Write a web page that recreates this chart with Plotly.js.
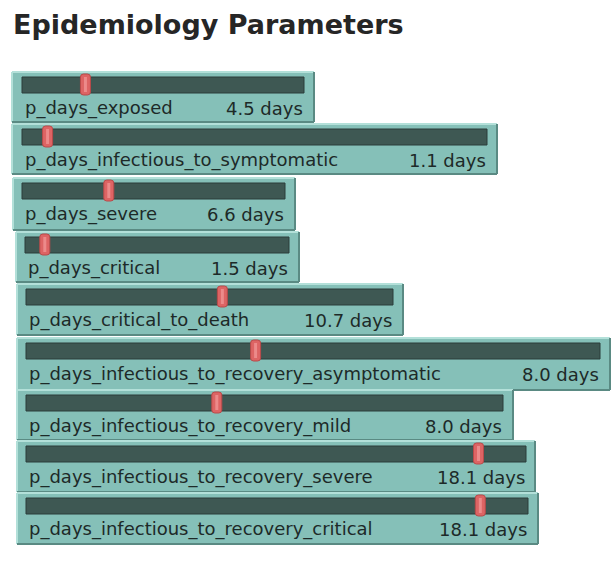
<!DOCTYPE html>
<html>
<head>
<meta charset="utf-8">
<script src="https://cdn.plot.ly/plotly-3.0.1.min.js"></script>
<style>html,body{margin:0;padding:0;background:#fff;}#chart{width:615px;height:576px;}</style>
</head>
<body>
<div id="chart"></div>
<script>
// ---- data ----
const titleText = "Epidemiology Parameters";
const labels = [
  "p_days_exposed",
  "p_days_infectious_to_symptomatic",
  "p_days_severe",
  "p_days_critical",
  "p_days_critical_to_death",
  "p_days_infectious_to_recovery_asymptomatic",
  "p_days_infectious_to_recovery_mild",
  "p_days_infectious_to_recovery_severe",
  "p_days_infectious_to_recovery_critical"
];
const values = [4.5, 1.1, 6.6, 1.5, 10.7, 8.0, 8.0, 18.1, 18.1];
const mins = [0, 0, 0, 0, 0, 0, 0, 0, 0];
const maxs = [20, 20, 20, 20, 20, 20, 20, 20, 20];
const unit = "days";

// ---- layout geometry (pixels): panel left, right, top, bottom, track left, track right ----
const W = 615, H = 576;
const panels = [
  [12, 314, 72, 122, 22, 304],
  [12, 497, 124, 174, 22, 487],
  [13, 295, 178, 230, 22, 285],
  [16, 299, 232, 282, 25, 289],
  [17, 403, 284, 335, 26, 393],
  [17, 610, 338, 390, 26, 600],
  [17, 513, 390, 440, 26, 503],
  [17, 535, 441, 492, 26, 526],
  [17, 538, 493, 544, 26, 528]
];
const trackTop = 5, trackBot = 21;      // px from panel top
const handleTop = 2, handleBot = 23;
const handleHalfW = 5;                   // px
const labelY = 36;

const panelColor = "#85c0b8";
const trackColor = "#3e5853";
const handleColor = "#dd6464";
const textColor = "#1d2a28";

const traces = [];
const layout = {
  width: W, height: H,
  margin: {l: 0, r: 0, t: 0, b: 0},
  paper_bgcolor: "#ffffff",
  plot_bgcolor: panelColor,
  showlegend: false,
  barmode: "overlay",
  title: {
    text: titleText,
    x: 13 / W, xanchor: "left", xref: "paper",
    y: 1 - 25 / H, yanchor: "middle", yref: "paper",
    font: {family: "DejaVu Sans", size: 27, color: "#262626", weight: "bold"}
  },
  annotations: [],
  shapes: []
};

labels.forEach((lab, i) => {
  const n = i + 1;
  const xa = "xaxis" + (n === 1 ? "" : n), ya = "yaxis" + (n === 1 ? "" : n);
  const xr = "x" + (n === 1 ? "" : n), yr = "y" + (n === 1 ? "" : n);
  const [pL, pR, pT, pB, tL, tR] = panels[i];
  const span = maxs[i] - mins[i];
  const s = span / (tR - tL);  // axis units per px
  const ph = pB - pT;
  layout[xa] = {
    domain: [pL / W, pR / W],
    range: [mins[i] - (tL - pL) * s, maxs[i] + (pR - tR) * s],
    visible: false, fixedrange: true, anchor: yr
  };
  layout[ya] = {
    domain: [1 - pB / H, 1 - pT / H],
    range: [ph, 0],
    visible: false, fixedrange: true, anchor: xr
  };
  // track
  traces.push({
    type: "bar", orientation: "h", xaxis: xr, yaxis: yr,
    y: [(trackTop + trackBot) / 2], base: [mins[i]], x: [span],
    width: [trackBot - trackTop],
    marker: {color: trackColor, line: {color: "#2b3d3a", width: 1}},
    hoverinfo: "skip"
  });
  // handle
  traces.push({
    type: "bar", orientation: "h", xaxis: xr, yaxis: yr,
    y: [(handleTop + handleBot) / 2], base: [values[i] - handleHalfW * s], x: [2 * handleHalfW * s],
    width: [handleBot - handleTop],
    marker: {color: handleColor, cornerradius: 3, line: {color: "#b84a4a", width: 1}},
    hoverinfo: "skip"
  });
  // handle highlight
  traces.push({
    type: "bar", orientation: "h", xaxis: xr, yaxis: yr,
    y: [(handleTop + handleBot) / 2], base: [values[i] - 1.5 * s], x: [3 * s],
    width: [handleBot - handleTop - 6],
    marker: {color: "#f29a9a", line: {width: 0}, opacity: 0.7},
    hoverinfo: "skip"
  });
  // labels
  layout.annotations.push({
    xref: xr, yref: yr, x: mins[i] + 1 * s, y: labelY,
    xanchor: "left", yanchor: "middle", showarrow: false,
    text: lab, font: {family: "DejaVu Sans", size: 18, color: textColor}
  });
  layout.annotations.push({
    xref: xr, yref: yr, x: maxs[i] + 1 * s, y: labelY,
    xanchor: "right", yanchor: "middle", showarrow: false,
    text: values[i].toFixed(1) + " " + unit,
    font: {family: "DejaVu Sans", size: 18, color: textColor}
  });
  // bevel edges
  layout.shapes.push({type: "line", xref: xr + " domain", yref: yr + " domain",
    x0: 0, x1: 1, y0: 1, y1: 1, line: {color: "#b3e0d9", width: 2}});
  layout.shapes.push({type: "line", xref: xr + " domain", yref: yr + " domain",
    x0: 0, x1: 0, y0: 0, y1: 1, line: {color: "#b3e0d9", width: 2}});
  layout.shapes.push({type: "line", xref: xr + " domain", yref: yr + " domain",
    x0: 0, x1: 1, y0: 0, y1: 0, line: {color: "#5a8a83", width: 2}});
  layout.shapes.push({type: "line", xref: xr + " domain", yref: yr + " domain",
    x0: 1, x1: 1, y0: 0, y1: 1, line: {color: "#5a8a83", width: 2}});
});

Plotly.newPlot("chart", traces, layout, {staticPlot: true, displayModeBar: false});
</script>
</body>
</html>
